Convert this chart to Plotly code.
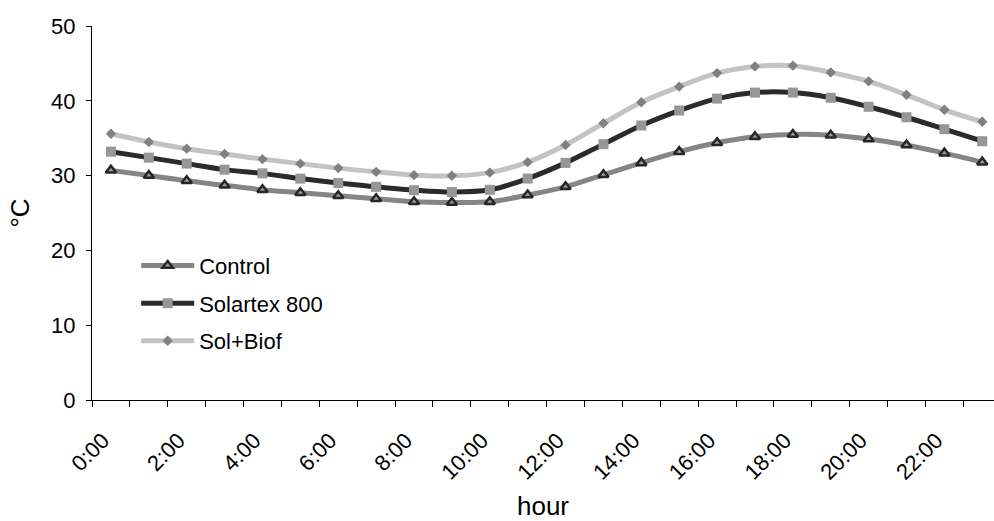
import plotly.graph_objects as go

hours = list(range(24))
hour_labels = [f"{h}:00" for h in range(0, 24, 2)]
label_positions = list(range(0, 24, 2))

control = [30.7, 30.0, 29.3, 28.7, 28.1, 27.7, 27.3, 26.9, 26.5, 26.4, 26.5, 27.4,
           28.5, 30.1, 31.7, 33.2, 34.4, 35.2, 35.5, 35.4, 34.9, 34.1, 33.0, 31.8]
solartex = [33.2, 32.4, 31.6, 30.8, 30.3, 29.6, 29.0, 28.5, 28.05, 27.8, 28.1, 29.6,
            31.7, 34.2, 36.7, 38.7, 40.3, 41.1, 41.1, 40.4, 39.2, 37.8, 36.2, 34.6]
solbiof = [35.6, 34.5, 33.6, 32.9, 32.2, 31.6, 31.0, 30.5, 30.06, 29.97, 30.4, 31.8,
           34.1, 37.0, 39.8, 41.9, 43.7, 44.6, 44.7, 43.8, 42.6, 40.8, 38.8, 37.2]

FONT = "Liberation Sans, Arial, sans-serif"

fig = go.Figure()
fig.add_trace(go.Scatter(
    x=hours, y=control, name="Control", mode="lines+markers", legendgroup="a",
    line=dict(color="#858585", width=5, shape="spline"),
    marker=dict(symbol="triangle-up", size=9, color="#9a9a9a",
                line=dict(color="#262626", width=2.5)),
    cliponaxis=False))
fig.add_trace(go.Scatter(
    x=hours, y=solartex, name="Solartex 800", mode="lines+markers", legendgroup="b",
    line=dict(color="#2b2b2b", width=5, shape="spline"),
    marker=dict(symbol="square", size=10, color="#969696", line=dict(width=0)),
    cliponaxis=False))
fig.add_trace(go.Scatter(
    x=hours, y=solbiof, name="Sol+Biof", mode="lines+markers", legendgroup="c",
    line=dict(color="#c3c3c3", width=5, shape="spline"),
    marker=dict(symbol="diamond", size=8, color="#808080", line=dict(width=0)),
    cliponaxis=False))

fig.update_layout(
    width=994, height=521,
    margin=dict(l=92, r=0, t=26, b=121),
    paper_bgcolor="white", plot_bgcolor="white",
    font=dict(family=FONT, size=22, color="black"),
    showlegend=True,
    legend=dict(x=0.049, y=0.415, xanchor="left", yanchor="top",
                bgcolor="rgba(0,0,0,0)", font=dict(size=22, family=FONT),
                itemwidth=53, tracegroupgap=6),
    xaxis=dict(
        range=[-0.5, 23.31], showgrid=False, zeroline=False,
        showline=True, linecolor="black", linewidth=1,
        tickmode="array", tickvals=label_positions, ticktext=hour_labels,
        ticks="", tickangle=-45, tickfont=dict(size=22, family=FONT),
        ticklabelstandoff=18, ticklabelshift=-8,
        minor=dict(tick0=-0.5, dtick=1, ticks="outside", ticklen=6,
                   tickcolor="black", tickwidth=1, showgrid=False),
        title=dict(text="hour", font=dict(size=26, family=FONT), standoff=14),
    ),
    yaxis=dict(
        range=[0, 50], dtick=10, showgrid=False, zeroline=False,
        showline=True, linecolor="black", linewidth=1,
        ticks="outside", ticklen=5, tickcolor="black",
        tickfont=dict(size=22, family=FONT), ticklabelstandoff=6,
        title=dict(text="°C", font=dict(size=26, family=FONT), standoff=14),
    ),
)

fig.write_html("out.html")
